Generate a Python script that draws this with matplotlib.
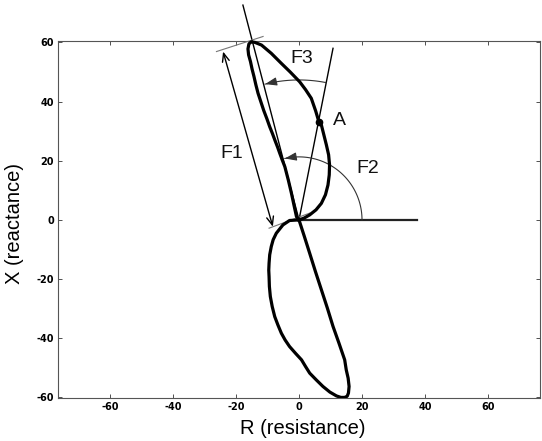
import numpy as np
import matplotlib
matplotlib.use("Agg")
import matplotlib.pyplot as plt

plt.rcParams['axes.unicode_minus'] = False
plt.rcParams['font.family'] = ['Liberation Sans', 'DejaVu Sans']

# ---- data ----
upper_R = [0, 1.6, 3.4, 5.4, 7.1, 8.4, 9.2, 9.6, 9.7, 9.4, 8.7, 7.9, 7.1, 6.3, 5.3, 3.9,
           2.1, 0.2, -2.8, -5.6, -8.8, -11.9, -14.0, -15.1, -15.9, -16.2, -16.0, -15.4,
           -14.9, -14.3, -13.7, -13.0, -12.1, -11.2, -10.2, -9.3, -8.4, -7.6, -6.8, -6.1,
           -5.3, -4.5, -3.4, -2.4, -1.6, -0.8, 0]
upper_X = [0, 0.6, 1.7, 3.4, 5.6, 8.5, 11.8, 15.2, 18.6, 22.0, 25.3, 28.7, 32.1, 33.2, 36.8, 41.1,
           44.0, 46.7, 50.0, 52.9, 56.3, 59.1, 60.0, 60.2, 59.5, 57.8, 55.8, 53.5,
           51.0, 48.5, 45.7, 42.8, 39.9, 37.0, 34.2, 31.5, 29.1, 26.8, 24.6, 22.5,
           20.2, 18.0, 13.5, 9.0, 5.0, 1.1, 0]
lower_R = [0, -3.0, -5.1, -7.2, -8.2, -8.8, -9.3, -9.5, -9.6, -9.5, -9.4, -9.1, -8.5, -7.7,
           -6.7, -5.6, -4.4, -3.0, -1.1, 0.8, 2.1, 3.4, 5.5, 7.6, 9.8, 11.9, 13.3, 14.5,
           15.3, 15.7, 15.9, 15.6, 15.0, 14.5, 12.7, 10.8, 9.0, 7.1, 5.2, 3.4, 1.7, 0]
lower_X = [0, -0.2, -1.7, -4.5, -6.7, -9.0, -11.8, -14.6, -17.0, -19.2, -22.5, -25.9, -29.3, -32.7,
           -35.5, -38.3, -40.6, -42.8, -45.1, -47.3, -49.6, -51.8, -54.1, -56.3, -58.2, -59.5, -60.0, -60.0,
           -59.6, -58.5, -56.3, -53.5, -50.7, -47.3, -41.7, -36.0, -29.8, -23.6, -17.4, -11.3, -5.6, 0]
point_A = (6.3, 33.2)
line_top = (-17.8, 72.6)
f2_line_end = (10.8, 58.0)
horiz_end = 37.3
f1_start = (-24.1, 56.9)
f1_end = (-8.3, -2.3)
ext_top = [(-26.2, 56.9), (-11.4, 62.0)]
ext_bottom = [(-9.5, -2.8), (3.4, 2.3)]
f2_arc = dict(rx=20.0, ry=21.3, a0=0, a1=103)
f3_arc = dict(rx=44.4, ry=47.3, a0=79, a1=104)
x_ticks = [-60, -40, -20, 0, 20, 40, 60]
y_ticks = [-60, -40, -20, 0, 20, 40, 60]
labels = {"F1": (-21.5, 22.5), "F2": (21.9, 17.5), "F3": (0.8, 54.6), "A": (12.7, 33.5)}

fig = plt.figure(figsize=(5.42, 4.41), dpi=100)
ax = fig.add_axes([58 / 542, (441 - 398) / 441, (540 - 58) / 542, (398 - 41.5) / 441])
ax.set_xlim(-76.5, 76.5)
ax.set_ylim(-60.2, 60.3)

# curve
ax.plot(upper_R, upper_X, color='k', lw=2.3, solid_joinstyle='round', clip_on=False, zorder=4)
ax.plot(lower_R, lower_X, color='k', lw=2.3, solid_joinstyle='round', zorder=4)

# straight line through origin
ax.plot([line_top[0], 0], [line_top[1], 0], color='k', lw=1.0, clip_on=False, zorder=3)
# F2 line
ax.plot([0, f2_line_end[0]], [0, f2_line_end[1]], color='k', lw=1.0, zorder=3)
# horizontal reference
ax.plot([0, horiz_end], [0, 0], color='#222222', lw=1.6, zorder=3)
# extension lines
for seg in (ext_top, ext_bottom):
    ax.plot([seg[0][0], seg[1][0]], [seg[0][1], seg[1][1]], color='#777777', lw=0.8,
            clip_on=False, zorder=3)
# F1 dimension arrow
ax.annotate('', xy=f1_end, xytext=f1_start,
            arrowprops=dict(arrowstyle='<->,head_length=0.6,head_width=0.25', color='k',
                            lw=1.0, shrinkA=0, shrinkB=0), annotation_clip=False)

# arcs
for arc in (f2_arc, f3_arc):
    t = np.radians(np.linspace(arc['a0'], arc['a1'], 80))
    xs = arc['rx'] * np.cos(t)
    ys = arc['ry'] * np.sin(t)
    ax.plot(xs, ys, color='#333333', lw=0.8, zorder=3)
    ax.annotate('', xy=(xs[-1], ys[-1]), xytext=(xs[-6], ys[-6]),
                arrowprops=dict(arrowstyle='-|>,head_length=0.7,head_width=0.25',
                                color='#333333', lw=0.8, shrinkA=0, shrinkB=0))

# point A
ax.plot([point_A[0]], [point_A[1]], 'o', color='k', ms=4.5, zorder=5)

for txt, (x, y) in labels.items():
    ax.text(x, y, txt, fontsize=14, ha='center', va='center', color='#111111')

ax.set_xticks(x_ticks)
ax.set_yticks(y_ticks)
ax.tick_params(direction='in', length=3, width=0.6, labelsize=7, top=True, right=True,
               colors='#333333', labelcolor='black', pad=3)
for lab in ax.get_xticklabels() + ax.get_yticklabels():
    lab.set_fontfamily('DejaVu Sans')
    lab.set_fontweight('bold')
for s in ax.spines.values():
    s.set_color('#555555')
    s.set_linewidth(0.8)

fig.text(303 / 542, 1 - 429 / 441, 'R (resistance)', fontsize=14.5, ha='center', va='center')
fig.text(14.5 / 542, 1 - 223 / 441, 'X (reactance)', fontsize=14.5, ha='center', va='center',
         rotation=90)

fig.savefig('out.png', dpi=100)
